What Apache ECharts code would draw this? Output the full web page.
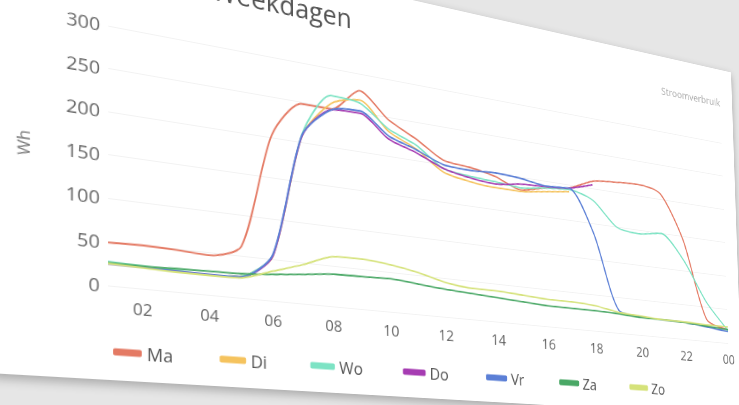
<!DOCTYPE html>
<html><head><meta charset="utf-8">
<script src="https://cdn.jsdelivr.net/npm/echarts@6/dist/echarts.min.js"></script>
<style>
html,body{margin:0;padding:0;width:739px;height:405px;overflow:hidden;background:#e6e6e6;}
#card{position:absolute;left:0;top:0;width:910px;height:451px;background:#fff;transform-origin:0 0;box-shadow:0 4px 10px rgba(0,0,0,0.28);filter:blur(0.7px);}
#chart{width:910px;height:451px;}
</style></head><body>
<div id="card"><div id="chart"></div></div>
<script>
// ---- data ----
const hours = ['01','02','03','04','05','06','07','08','09','10','11','12','13','14','15','16','17','18','19','20','21','22','23','00'];
const yTicks = [0, 50, 100, 150, 200, 250, 300];
const ma = [49,50,49,47,62,203,248,248,278,247,228,206,202,195,182,190,195,210,214,216,208,145,32,20];
const di = [26,25,24,24,26,54,208,255,266,232,215,190,183,180,180,185,190,null,null,null,null,null,null,null];
const wo = [27,26,25,24,26,55,210,265,262,235,220,195,190,188,185,190,193,183,150,145,150,115,58,19];
const dO = [25,25,24,24,25,54,208,247,249,222,210,195,188,185,190,192,195,205,null,null,null,null,null,null];
const vr = [25,25,24,24,25,56,209,247,252,226,214,200,198,200,198,193,195,136,32,26,25,24,21,17];
const za = [26,26,27,28,29,32,36,40,41,42,39,36,34,32,30,28,28,28,27,25,25,24,22,20];
const zo = [25,24,23,23,24,36,48,62,63,60,54,45,41,41,39,37,37,35,29,27,25,25,24,24];
const names = ['Ma','Di','Wo','Do','Vr','Za','Zo'];
const colors = ['#e47a64','#f5c35e','#7de3c4','#a63cb2','#5b7fd6','#4aa866','#d5e27a'];
const values = [ma, di, wo, dO, vr, za, zo];

// ---- flat layout (style) ----
const GL = 108, GT = 97, GH = 261, DX = 34, W = 910, H = 451;
const GW = DX * (hours.length - 1);
const XL_MARGIN = 12, XL_FS = 17, YL_FS = 19;

// ---- perspective of the photo: fit a homography from flat layout to picture ----
const pairs = [];
const yImgPos = [285, 242, 197, 153, 110, 67, 24];
yTicks.forEach((v, i) => pairs.push([GL - 8, GT + (300 - v) / 300 * GH, 100, yImgPos[i]]));
const xImgPos = [[143,308],[210,313],[272,319],[333,325],[391,331],[447,337],[499,341],[549,345],[597,348],[643,352],[687,354],[728,358]];
xImgPos.forEach((p, k) => pairs.push([GL + (2 * k + 1) * DX, GT + GH + XL_MARGIN + XL_FS / 2, p[0], p[1]]));

function fitH(pairs) {
  const S = 1000, N = 8;
  const M = Array.from({length: N}, () => new Array(N + 1).fill(0));
  const add = (row, b) => {
    for (let i = 0; i < N; i++) {
      for (let j = 0; j < N; j++) M[i][j] += row[i] * row[j];
      M[i][N] += row[i] * b;
    }
  };
  for (const [X, Y, U, V] of pairs) {
    const x = X / S, y = Y / S, u = U / S, v = V / S;
    add([x, y, 1, 0, 0, 0, -x * u, -y * u], u);
    add([0, 0, 0, x, y, 1, -x * v, -y * v], v);
  }
  for (let c = 0; c < N; c++) {
    let p = c;
    for (let r = c + 1; r < N; r++) if (Math.abs(M[r][c]) > Math.abs(M[p][c])) p = r;
    [M[c], M[p]] = [M[p], M[c]];
    for (let r = 0; r < N; r++) {
      if (r === c) continue;
      const f = M[r][c] / M[c][c];
      for (let k = c; k <= N; k++) M[r][k] -= f * M[c][k];
    }
  }
  const s = M.map((row, i) => row[N] / row[i]);
  return [s[0], s[1], s[2] * S, s[3], s[4], s[5] * S, s[6] / S, s[7] / S];
}
const [a, b, c, d, e, f, g, h] = fitH(pairs);
document.getElementById('card').style.transform =
  `matrix3d(${a},${d},0,${g},${b},${e},0,${h},0,0,1,0,${c},${f},0,1)`;

// ---- chart ----
const chart = echarts.init(document.getElementById('chart'), null, {renderer: 'svg', width: W, height: H});
chart.setOption({
  animation: false,
  color: colors,
  title: {
    text: 'Gemiddelde Weekdagen', left: 36, top: 17,
    textStyle: {fontFamily: 'Open Sans', fontSize: 29, fontWeight: 'normal', color: '#555'}
  },
  graphic: [{
    type: 'text', right: W - (GL + GW), top: 37,
    style: {text: 'Stroomverbruik', fontFamily: 'Open Sans', fontSize: 13, fill: '#aaa'}
  }],
  legend: {
    data: names, left: GL, top: GT + GH + 51, icon: 'roundRect',
    itemWidth: 28, itemHeight: 7, itemGap: 48,
    textStyle: {fontFamily: 'Open Sans', fontSize: 18, color: '#555'}
  },
  grid: {left: GL, top: GT, width: GW, height: GH, containLabel: false},
  xAxis: {
    type: 'category', data: hours, boundaryGap: false,
    axisLine: {show: false}, axisTick: {show: false},
    axisLabel: {interval: (i) => i % 2 === 1, margin: XL_MARGIN, fontSize: XL_FS, fontFamily: 'Open Sans', color: '#666'}
  },
  yAxis: {
    type: 'value', min: 0, max: 300, interval: 50,
    name: 'Wh', nameLocation: 'middle', nameGap: 72,
    nameTextStyle: {fontFamily: 'Open Sans', fontSize: 16, color: '#777'},
    axisLabel: {margin: 8, fontSize: YL_FS, fontFamily: 'Open Sans', color: '#6a6a6a'},
    splitLine: {lineStyle: {color: '#f2f2f2'}}
  },
  series: names.map((n, i) => ({
    name: n, type: 'line', data: values[i], symbol: 'none', smooth: 0.25,
    lineStyle: {width: 1.8}, connectNulls: false
  }))
});
</script>
</body></html>
